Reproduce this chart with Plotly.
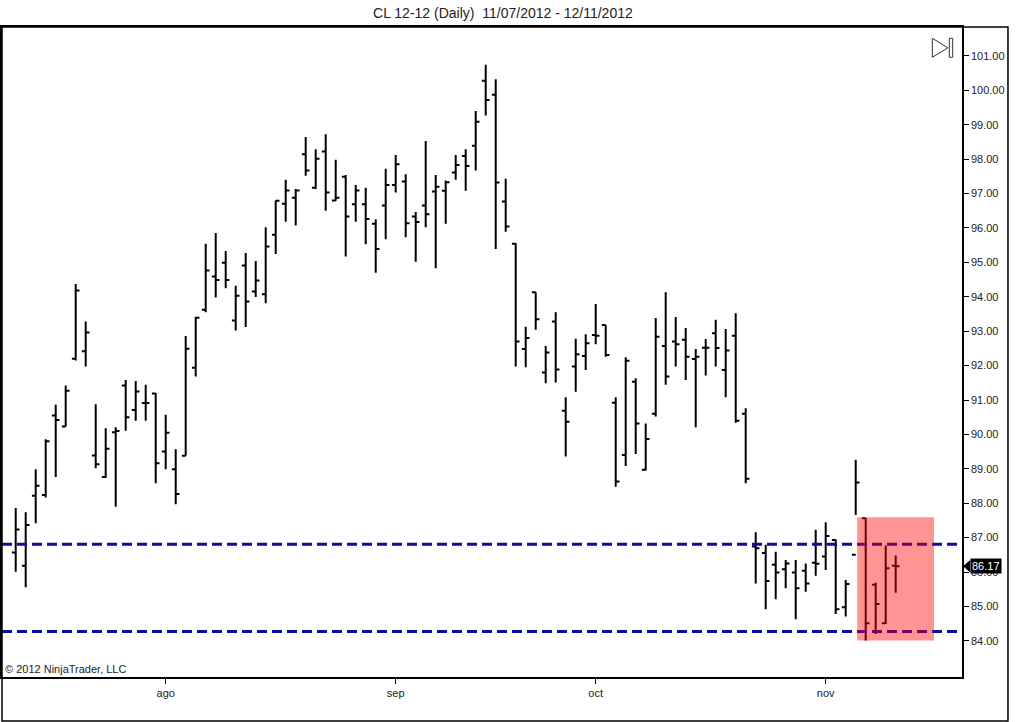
import plotly.graph_objects as go

# CL 12-12 daily bars, 11/07/2012 - 12/11/2012 (one entry per trading session)
opens = [86.57, 86.18, 88.22, 88.24, 90.55, 90.23, 92.20, 92.42, 89.39, 88.76,
         90.06, 91.42, 90.71, 90.91, 91.19, 89.50, 88.99, 89.38, 91.94, 93.62,
         94.59, 94.99, 93.31, 94.91, 94.15, 94.07, 95.80, 96.70, 96.88, 98.14,
         97.17, 98.22, 96.80, 97.49, 96.69, 96.69, 96.12, 96.65, 97.25, 97.35,
         96.33, 96.65, 97.06, 97.08, 97.61, 98.09, 98.39, 100.28, 99.87, 96.77,
         95.54, 92.48, 94.13, 91.80, 93.28, 90.69, 91.97, 92.28, 92.89, 93.18,
         90.92, 89.40, 91.53, 88.97, 90.60, 92.57, 92.70, 92.75, 92.19, 92.52,
         92.94, 91.87, 92.87, 90.60, 86.74, 86.55, 86.21, 86.08, 85.99, 86.04,
         86.27, 86.45, 86.93, 84.98, 86.50, 87.56, 85.63, 84.51, 86.18]
highs = [87.86, 87.74, 88.99, 89.86, 90.86, 91.42, 94.37, 93.28, 90.88, 90.18,
         90.21, 91.58, 91.55, 91.44, 91.20, 90.57, 89.57, 92.86, 93.42, 95.54,
         95.85, 95.33, 94.32, 95.27, 95.04, 96.02, 96.80, 97.40, 97.13, 98.64,
         98.29, 98.72, 97.98, 97.54, 97.25, 97.17, 96.25, 97.72, 98.12, 97.56,
         96.46, 98.53, 97.54, 97.38, 98.12, 98.29, 99.40, 100.74, 100.32, 97.43,
         95.56, 93.13, 94.13, 92.57, 93.55, 91.08, 92.78, 92.91, 93.79, 93.18,
         91.08, 92.24, 91.63, 90.32, 93.38, 94.13, 93.41, 93.09, 92.48, 92.77,
         93.33, 93.06, 93.52, 90.76, 87.16, 86.79, 86.59, 86.35, 86.35, 86.25,
         87.23, 87.45, 86.95, 85.77, 89.26, 87.56, 85.69, 86.77, 86.48]
lows = [86.01, 85.56, 87.42, 88.17, 88.76, 90.23, 92.15, 91.97, 89.02, 88.73,
        87.90, 90.11, 90.40, 90.40, 88.58, 88.99, 87.97, 89.38, 91.68, 93.55,
        93.98, 94.25, 93.02, 93.12, 93.99, 93.81, 95.24, 96.18, 96.07, 97.52,
        97.13, 96.50, 96.79, 95.17, 96.18, 95.53, 94.70, 95.67, 97.03, 95.73,
        95.02, 96.02, 94.83, 96.12, 97.40, 97.08, 97.67, 99.27, 95.39, 95.89,
        91.97, 91.95, 93.04, 91.49, 91.51, 89.36, 91.24, 91.87, 92.62, 92.26,
        88.48, 89.08, 89.43, 88.95, 90.52, 91.44, 91.97, 91.58, 90.21, 91.71,
        91.97, 91.08, 90.34, 88.58, 85.67, 84.92, 85.21, 85.53, 84.63, 85.43,
        85.89, 86.06, 84.78, 84.71, 87.66, 84.01, 84.20, 84.49, 85.40]
closes = [87.24, 87.37, 88.51, 89.80, 90.42, 91.27, 94.18, 92.96, 89.13, 89.58,
          90.10, 90.50, 91.25, 90.91, 89.16, 90.05, 88.27, 92.49, 93.39, 94.76,
          94.49, 94.49, 94.03, 93.86, 94.47, 95.46, 96.79, 97.09, 97.09, 97.67,
          98.01, 97.03, 96.88, 96.33, 97.09, 96.26, 95.39, 97.25, 97.85, 96.14,
          96.17, 96.40, 97.20, 97.33, 97.83, 97.80, 99.09, 99.72, 97.32, 96.04,
          92.70, 92.80, 93.35, 92.38, 91.89, 90.37, 92.33, 92.65, 92.87, 92.31,
          88.63, 92.14, 90.32, 89.87, 92.84, 91.68, 92.62, 92.26, 92.26, 92.52,
          92.51, 92.44, 90.40, 88.71, 86.69, 85.74, 85.99, 86.25, 85.53, 85.67,
          86.24, 87.05, 84.92, 85.65, 88.60, 84.51, 85.07, 86.11, 86.17]

# month labels sit on the first session of each month
month_pos = [15, 38, 58, 81]
month_names = ["ago", "sep", "oct", "nov"]

# price scale labels
price_ticks = [84, 85, 86, 87, 88, 89, 90, 91, 92, 93, 94, 95, 96, 97, 98, 99, 100, 101]

# drawn levels and zone
levels = [86.81, 84.27]
zone_x = [84.15, 91.83]
zone_y = [84.01, 87.59]
last_price = closes[-1]

bar_x = list(range(len(closes)))

fig = go.Figure()
fig.add_trace(go.Ohlc(
    x=bar_x, open=opens, high=highs, low=lows, close=closes,
    increasing=dict(line=dict(color="black", width=2)),
    decreasing=dict(line=dict(color="black", width=2)),
    tickwidth=0.38, hoverinfo="skip", showlegend=False,
))

shapes = []
for lv in levels:
    shapes.append(dict(type="line", xref="paper", yref="y", x0=0, x1=1, y0=lv, y1=lv,
                       line=dict(color="#0c0ca0", width=3, dash="10px,5px"), layer="above"))
shapes.append(dict(type="rect", xref="x", yref="y", x0=zone_x[0], x1=zone_x[1],
                   y0=zone_y[0], y1=zone_y[1], fillcolor="red", opacity=0.42,
                   line=dict(width=0), layer="above"))
# outer frame
shapes.append(dict(type="rect", xref="paper", yref="paper", x0=0, x1=1.0479, y0=-0.0677, y1=1,
                   line=dict(color="black", width=1.5), layer="above"))
# last price pointer
shapes.append(dict(type="path", xref="paper", yref="y",
                   path=f"M 1.001,{last_price} L 1.0085,{last_price + 0.18} L 1.0085,{last_price - 0.18} Z",
                   fillcolor="black", line=dict(width=0), layer="above"))
# scroll-to-end icon
shapes.append(dict(type="path", xref="paper", yref="paper",
                   path="M 0.9691,0.9826 L 0.9854,0.968 L 0.9691,0.9534 Z",
                   line=dict(color="#333333", width=1), layer="above"))
shapes.append(dict(type="rect", xref="paper", yref="paper", x0=0.9868, x1=0.9903, y0=0.9534, y1=0.9826,
                   line=dict(color="#333333", width=1), layer="above"))

fig.update_layout(
    width=1016, height=722, autosize=False,
    margin=dict(l=2, r=54, t=27, b=45, autoexpand=False),
    paper_bgcolor="white", plot_bgcolor="white",
    font=dict(family="Arial", size=11, color="#222222"),
    title=dict(text="CL 12-12 (Daily)  11/07/2012 - 12/11/2012", x=0.495, xanchor="center",
               y=0.982, yanchor="middle", font=dict(size=14, color="#222222")),
    shapes=shapes,
    annotations=[
        dict(text="© 2012 NinjaTrader, LLC", xref="paper", yref="paper", x=0.001, y=0.0125,
             xanchor="left", yanchor="middle", showarrow=False, font=dict(size=11, color="#222222")),
        dict(text=f"{last_price:.2f}", xref="paper", yref="y", x=1.0085, y=last_price,
             xanchor="left", yanchor="middle", showarrow=False, bgcolor="black",
             borderpad=1, font=dict(size=11, color="white")),
    ],
)
fig.update_xaxes(range=[-1.37, 94.63], tickvals=month_pos, ticktext=month_names,
                 ticks="outside", ticklen=5, tickcolor="black", showline=True, linecolor="black",
                 linewidth=1.5, mirror=True, showgrid=False, zeroline=False, automargin=False,
                 rangeslider=dict(visible=False), fixedrange=True)
fig.update_yaxes(range=[82.95, 101.84], side="right", tickvals=price_ticks, tickformat=".2f",
                 ticks="outside", ticklen=5, tickcolor="black", showline=True, linecolor="black",
                 linewidth=1.5, mirror=True, showgrid=False, zeroline=False, automargin=False,
                 fixedrange=True)

# page body margin would shift the chart by 8px, so drop it
fig.write_html("out.html", config={"displayModeBar": False},
               post_script="document.body.style.margin='0';")
